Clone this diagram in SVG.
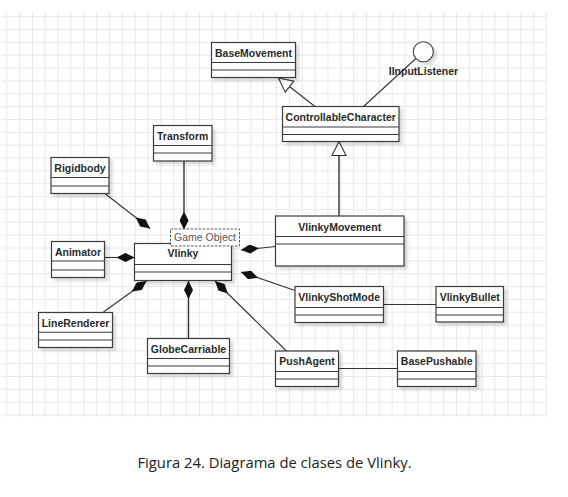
<svg xmlns="http://www.w3.org/2000/svg" width="568" height="497" viewBox="0 0 568 497">
<style>
.box{fill:#fff;stroke:#3a3a3a;stroke-width:1.2;filter:url(#shadow)}
.div{stroke:#3a3a3a;stroke-width:1.1;fill:none}
.name{font-family:"Liberation Sans",Arial,sans-serif;font-weight:bold;font-size:10.5px;fill:#2a2a2a;text-anchor:middle}
.conn{stroke:#333;stroke-width:1.1;fill:none}
.comp{marker-end:url(#diamond)}
.gen{marker-end:url(#tri)}
.caption{font-family:"Open Sans","Liberation Sans",sans-serif;font-size:14.8px;fill:#222;text-anchor:middle}
</style>
<defs>
<pattern id="grid" x="6.2" y="16.2" width="12.85" height="12.85" patternUnits="userSpaceOnUse">
<path d="M0.5 0 V12.85 M0 0.5 H12.85" stroke="#e8e8e8" stroke-width="1" fill="none"/>
</pattern>
<filter id="shadow" x="-10%" y="-10%" width="130%" height="140%">
<feDropShadow dx="3" dy="3" stdDeviation="1.5" flood-color="#000" flood-opacity="0.14"/>
</filter>
<marker id="diamond" viewBox="0 0 18 9" refX="18" refY="4.5" markerWidth="18" markerHeight="9" markerUnits="userSpaceOnUse" orient="auto">
<path d="M0,4.5 L9,0 L18,4.5 L9,9 Z" fill="#111"/>
</marker>
<marker id="tri" viewBox="-1 -1 16 16" refX="14" refY="7" markerWidth="16" markerHeight="16" markerUnits="userSpaceOnUse" orient="auto" overflow="visible">
<path d="M0,0 L14,7 L0,14 Z" fill="#fff" stroke="#333" stroke-width="1.1"/>
</marker>
</defs>
<rect x="0" y="0" width="568" height="497" fill="#fff"/>
<rect x="2" y="12" width="545" height="405" fill="url(#grid)"/>

<g id="connectors">
<line class="conn comp" x1="105.5" y1="194" x2="150" y2="228.5"/>
<line class="conn comp" x1="184" y1="161" x2="184" y2="229.5" style="stroke-width:1.4"/>
<line class="conn comp" x1="104.5" y1="257.5" x2="134.5" y2="257.5"/>
<line class="conn comp" x1="103.5" y1="312" x2="146.5" y2="281"/>
<line class="conn comp" x1="188.5" y1="338.5" x2="188.5" y2="281" style="stroke-width:1.4"/>
<line class="conn comp" x1="286.5" y1="351" x2="215" y2="281"/>
<line class="conn comp" x1="295" y1="290.5" x2="241" y2="272"/>
<line class="conn comp" x1="275.5" y1="246.5" x2="241" y2="250"/>
<line class="conn" x1="383.5" y1="304.5" x2="436" y2="304.5"/>
<line class="conn" x1="338.5" y1="368.5" x2="397.5" y2="368.5"/>
<line class="conn gen" x1="315" y1="106.5" x2="278.5" y2="78"/>
<line class="conn gen" x1="339" y1="216" x2="339" y2="141.5" style="stroke-width:1.4"/>
<line class="conn" x1="363.5" y1="106.5" x2="415.9" y2="58.5"/>
</g>

<g id="BaseMovement">
<rect class="box" x="211.5" y="42.5" width="84" height="35"/>
<path class="div" d="M211.5 62.5 H295.5 M211.5 70 H295.5"/>
<text class="name" x="253.5" y="56.5">BaseMovement</text>
</g>

<g id="IInputListener">
<circle cx="423.3" cy="51.7" r="10" fill="#fff" stroke="#444" stroke-width="1.1" filter="url(#shadow)"/>
<text class="name" x="423.5" y="74.5">IInputListener</text>
</g>

<g id="ControllableCharacter">
<rect class="box" x="282.5" y="106.5" width="116.5" height="35"/>
<path class="div" d="M282.5 127 H399 M282.5 134.5 H399"/>
<text class="name" x="340.7" y="121">ControllableCharacter</text>
</g>

<g id="Transform">
<rect class="box" x="153.5" y="125.5" width="58.5" height="35.5"/>
<path class="div" d="M153.5 145.5 H212 M153.5 153 H212"/>
<text class="name" x="182.7" y="139.5">Transform</text>
</g>

<g id="Rigidbody">
<rect class="box" x="51" y="157.5" width="58" height="36"/>
<path class="div" d="M51 177.5 H109 M51 186 H109"/>
<text class="name" x="80" y="171.5">Rigidbody</text>
</g>

<g id="VlinkyMovement">
<rect class="box" x="275.5" y="216" width="128.5" height="50"/>
<path class="div" d="M275.5 236.5 H404 M275.5 244 H404"/>
<text class="name" x="339.7" y="230.5">VlinkyMovement</text>
</g>

<g id="Animator">
<rect class="box" x="51.5" y="241.5" width="53" height="36"/>
<path class="div" d="M51.5 261 H104.5 M51.5 270 H104.5"/>
<text class="name" x="78" y="255.5">Animator</text>
</g>

<g id="Vlinky">
<rect class="box" x="134.5" y="243.5" width="97" height="37"/>
<path class="div" d="M134.5 264.5 H231.5 M134.5 272 H231.5"/>
<text class="name" x="183" y="257.3">Vlinky</text>
<rect x="170.5" y="229" width="69" height="17" fill="#fff" stroke="#555" stroke-width="1" stroke-dasharray="2.5,1.5"/>
<text x="205" y="240.8" font-family="'Liberation Sans',Arial,sans-serif" font-size="10.5" fill="#555" text-anchor="middle">Game Object</text>
</g>

<g id="VlinkyShotMode">
<rect class="box" x="295" y="286.5" width="88.5" height="36"/>
<path class="div" d="M295 307.5 H383.5 M295 315 H383.5"/>
<text class="name" x="339.2" y="300.5">VlinkyShotMode</text>
</g>

<g id="VlinkyBullet">
<rect class="box" x="436" y="286.5" width="67.5" height="35.5"/>
<path class="div" d="M436 307.5 H503.5 M436 315 H503.5"/>
<text class="name" x="469.7" y="300.5">VlinkyBullet</text>
</g>

<g id="LineRenderer">
<rect class="box" x="38.5" y="312.5" width="74" height="35"/>
<path class="div" d="M38.5 332.3 H112.5 M38.5 340 H112.5"/>
<text class="name" x="75.5" y="326.5">LineRenderer</text>
</g>

<g id="GlobeCarriable">
<rect class="box" x="147.5" y="338.5" width="82" height="35"/>
<path class="div" d="M147.5 358.5 H229.5 M147.5 366 H229.5"/>
<text class="name" x="188.5" y="352.5">GlobeCarriable</text>
</g>

<g id="PushAgent">
<rect class="box" x="275.5" y="351" width="63" height="35.5"/>
<path class="div" d="M275.5 371.5 H338.5 M275.5 379 H338.5"/>
<text class="name" x="307" y="365">PushAgent</text>
</g>

<g id="BasePushable">
<rect class="box" x="397.5" y="351" width="78.5" height="35.5"/>
<path class="div" d="M397.5 371.5 H476 M397.5 379 H476"/>
<text class="name" x="436.7" y="365">BasePushable</text>
</g>

<text class="caption" x="274.5" y="468">Figura 24. Diagrama de clases de Vlinky.</text>
</svg>
